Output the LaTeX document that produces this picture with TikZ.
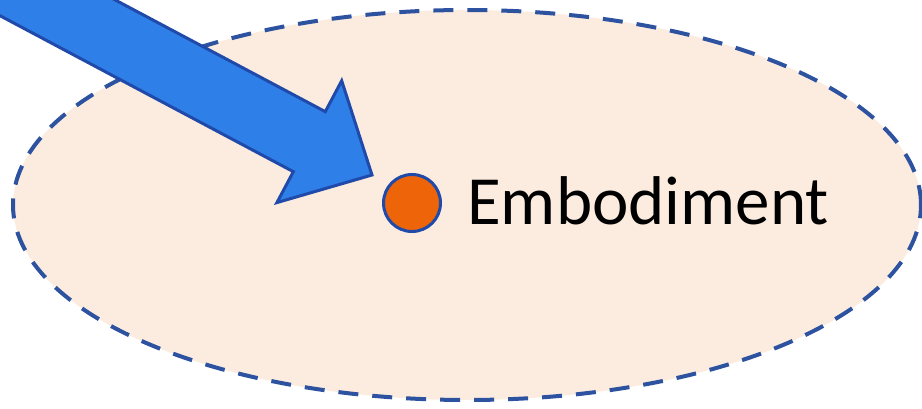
\documentclass[tikz,border=0pt]{standalone}
\usepackage{fontspec}
\setmainfont{Carlito}
\usetikzlibrary{shapes.geometric}
\definecolor{zonefill}{RGB}{251,236,223}
\definecolor{zoneline}{RGB}{44,82,160}
\definecolor{arrowfill}{RGB}{46,127,232}
\definecolor{arrowline}{RGB}{32,74,170}
\definecolor{dotfill}{RGB}{238,100,8}
\tikzstyle{zone} = [ellipse, minimum width=908pt, minimum height=390pt, inner sep=0pt,
draw=zoneline, dash pattern=on 20pt off 14pt, line width=4pt, fill=zonefill]
\tikzstyle{dot} = [circle, minimum size=57pt, inner sep=0pt, draw=arrowline, line width=3pt, fill=dotfill]
\tikzstyle{word} = [inner sep=0pt, font=\fontsize{69}{69}\selectfont]
\tikzstyle{blockarrow} = [fill=arrowfill, draw=arrowline, line width=3pt, line join=miter]

\begin{document}
\begin{tikzpicture}[x=1pt, y=-1pt]
\useasboundingbox (0,0) rectangle (922,409);
\clip (0,0) rectangle (922,409);

% ------------------------- nodes -------------------------

% ----- node: zone
\node(zone)[zone] at (467,205) {};
% ----- node: dot
\node(dot)[dot] at (412,203) {};
% ----- node: word
\node(word)[word, anchor=base west] at (467,225) {Embodiment};

% ------------------------- arrow -------------------------
\coordinate (tip) at (372,175);
\begin{scope}[shift={(tip)}, rotate=-28]
\draw[blockarrow] (0,0) -- (-71,-69) -- (-71,-34) -- (-700,-34) -- (-700,34) -- (-71,34) -- (-71,69) -- cycle;
\end{scope}

\end{tikzpicture}
\end{document}
